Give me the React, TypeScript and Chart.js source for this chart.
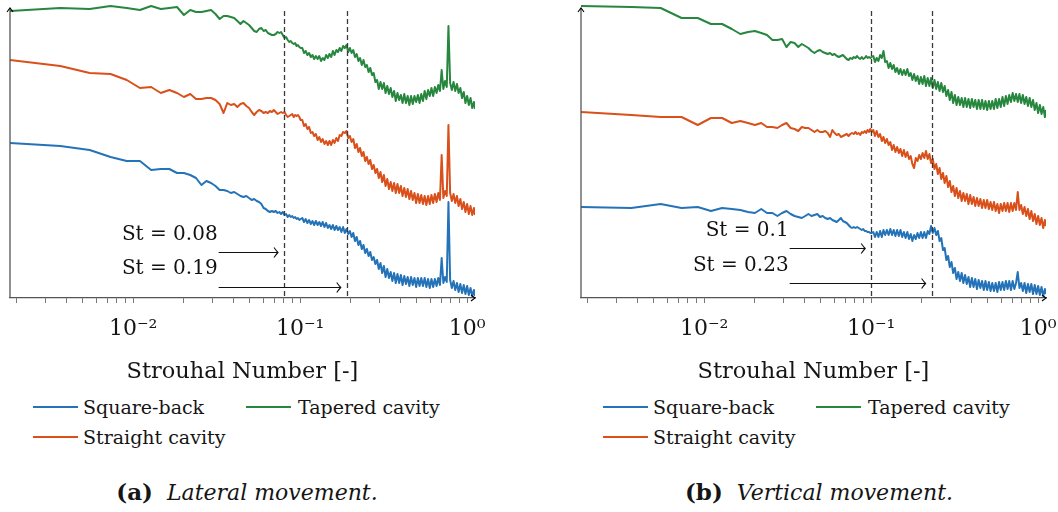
import React, { useEffect, useRef } from 'react';
import { Chart, registerables } from 'chart.js';

Chart.register(...registerables);

const FONT = "'DejaVu Serif', serif";

// Strouhal number (frequency) grid shared by all spectra
const strouhal = [
  0.00183, 0.00366, 0.00549, 0.00732, 0.00915, 0.01098, 0.01281, 0.01464, 0.01647, 0.0183,
  0.02013, 0.02196, 0.02379, 0.02562, 0.02745, 0.02928, 0.03111, 0.03294, 0.03477, 0.0366,
  0.03843, 0.04026, 0.04209, 0.04392, 0.04575, 0.04758, 0.04941, 0.05124, 0.05307, 0.0549,
  0.05673, 0.05856, 0.06039, 0.06222, 0.06405, 0.06588, 0.06771, 0.06954, 0.07137, 0.0732,
  0.07503, 0.07686, 0.07869, 0.08052, 0.08235, 0.08418, 0.08601, 0.08784, 0.08967, 0.0915,
  0.09333, 0.09516, 0.09699, 0.09882, 0.10065,
  0.103, 0.1054, 0.1079, 0.1105, 0.1131, 0.1158, 0.1185, 0.1213, 0.1242, 0.1272,
  0.1302, 0.1333, 0.1364, 0.1397, 0.143, 0.1464, 0.1498, 0.1534, 0.157, 0.1607,
  0.1646, 0.1685, 0.1725, 0.1765, 0.1807, 0.185, 0.1894, 0.1939, 0.1985, 0.2032,
  0.208, 0.2129, 0.218, 0.2232, 0.2284, 0.2339, 0.2394, 0.2451, 0.2509, 0.2568,
  0.2629, 0.2692, 0.2755, 0.2821, 0.2888, 0.2956, 0.3026, 0.3098, 0.3171, 0.3246,
  0.3323, 0.3402, 0.3483, 0.3565, 0.365, 0.3736, 0.3825, 0.3916, 0.4008, 0.4103,
  0.4201, 0.43, 0.4402, 0.4507, 0.4613, 0.4723, 0.4835, 0.4949, 0.5067, 0.5187,
  0.531, 0.5436, 0.5565, 0.5697, 0.5832, 0.597, 0.6112, 0.6257, 0.6405, 0.6557,
  0.6712, 0.6871, 0.7034, 0.7201, 0.7371, 0.7546, 0.7725, 0.7908, 0.8095, 0.8287,
  0.8484, 0.8685, 0.889, 0.9101, 0.9317, 0.9538, 0.9764, 0.9995, 1.0232, 1.0474,
  1.0722, 1.0976, 1.114,
];

// (a) Lateral movement — PSD (arbitrary dB-offset units)
const lateralSquareBack = [
  155, 152, 148, 141, 137, 137, 128, 129, 129, 125, 125, 123, 120, 113, 117, 115, 112, 108, 108, 107,
  105, 106, 104, 102, 101, 102, 100, 98, 99, 97, 96, 94, 90, 89, 87, 86, 87, 86, 87, 85,
  86, 84, 86, 83, 84, 81, 83, 81, 82, 80, 81, 79, 80, 78, 79,
  80, 76, 79, 75, 78, 74, 77, 73, 77, 73, 76, 72, 76, 71, 75, 70, 73, 69, 73, 68,
  72, 68, 71, 66, 71, 65, 69, 64, 67, 61, 65, 57, 61, 53, 57, 49, 53, 45, 49, 42,
  46, 38, 41, 34, 38, 29, 35, 25, 32, 21, 29, 20, 26, 17, 25, 15, 24, 15, 23, 13,
  22, 14, 21, 12, 21, 13, 20, 11, 20, 12, 20, 12, 20, 11, 19, 10, 19, 11, 19, 12,
  20, 13, 40, 15, 21, 16, 96, 18, 10, 17, 8, 15, 6, 14, 5, 13, 4, 12, 3, 10,
  2, 8, 2,
];
const lateralStraight = [
  238, 232, 225, 224, 218, 210, 211, 205, 208, 205, 201, 204, 199, 199, 200, 200, 198, 194, 185, 195,
  193, 194, 191, 194, 195, 192, 190, 186, 183, 186, 188, 187, 185, 186, 185, 187, 186, 188, 186, 184,
  185, 186, 185, 186, 183, 181, 182, 183, 184, 181, 183, 182, 183, 181, 178,
  178, 172, 174, 169, 171, 165, 166, 162, 164, 158, 161, 156, 159, 154, 157, 153, 157, 153, 158, 155,
  160, 157, 163, 162, 166, 165, 167, 160, 162, 156, 159, 150, 154, 146, 150, 142, 146, 137, 141, 134,
  138, 129, 133, 125, 129, 120, 126, 116, 123, 112, 119, 109, 116, 107, 115, 105, 114, 105, 112, 102,
  110, 101, 109, 99, 107, 98, 105, 95, 104, 95, 103, 94, 102, 93, 102, 94, 103, 95, 104, 96,
  105, 98, 143, 100, 107, 102, 173, 105, 97, 104, 95, 102, 92, 99, 89, 96, 86, 94, 84, 92,
  83, 90, 83,
];
const lateralTapered = [
  287, 290, 289, 292, 290, 288, 292, 289, 290, 291, 283, 288, 286, 286, 287, 288, 284, 279, 282, 282,
  281, 280, 277, 274, 277, 275, 273, 270, 267, 266, 269, 270, 267, 268, 265, 264, 263, 263, 264, 266,
  265, 266, 263, 260, 261, 258, 256, 257, 255, 254, 255, 252, 253, 251, 250,
  250, 245, 247, 243, 245, 241, 243, 239, 242, 239, 242, 237, 240, 238, 243, 240, 244, 241, 247, 243,
  248, 246, 250, 247, 252, 250, 253, 246, 250, 245, 248, 241, 244, 237, 240, 233, 238, 231, 233, 226,
  230, 223, 225, 216, 218, 209, 216, 209, 215, 205, 212, 204, 210, 201, 207, 197, 205, 198, 203, 195,
  204, 195, 202, 193, 202, 194, 202, 196, 203, 195, 204, 197, 207, 199, 208, 202, 210, 202, 211, 205,
  213, 207, 228, 209, 217, 211, 272, 215, 208, 216, 207, 214, 205, 210, 200, 206, 195, 202, 193, 200,
  190, 196, 189,
];

// (b) Vertical movement
const verticalSquareBack = [
  91, 90, 94, 90, 91, 87, 90, 89, 88, 86, 85, 89, 85, 85, 82, 85, 87, 84, 82, 81,
  80, 82, 84, 82, 83, 84, 81, 82, 80, 79, 80, 78, 77, 76, 78, 80, 77, 76, 75, 73,
  71, 70, 71, 70, 71, 70, 69, 68, 69, 67, 67, 66, 66, 65, 65,
  66, 61, 66, 61, 67, 61, 68, 63, 68, 63, 69, 63, 68, 62, 68, 62, 68, 61, 66, 60,
  66, 59, 64, 57, 63, 59, 65, 60, 66, 60, 66, 60, 67, 64, 72, 65, 70, 63, 67, 57,
  60, 48, 50, 38, 42, 31, 36, 25, 30, 19, 26, 17, 25, 15, 23, 14, 21, 11, 20, 11,
  19, 9, 18, 10, 17, 8, 17, 8, 16, 7, 15, 7, 15, 6, 16, 8, 16, 8, 17, 9,
  17, 8, 17, 9, 15, 26, 10, 15, 7, 15, 5, 14, 6, 14, 4, 13, 4, 12, 3, 11,
  2, 9, 4,
];
const verticalStraight = [
  186, 183, 181, 181, 173, 180, 180, 175, 177, 175, 173, 175, 171, 171, 170, 173, 175, 170, 169, 167,
  171, 170, 170, 168, 166, 168, 166, 166, 167, 165, 161, 168, 165, 163, 164, 161, 162, 163, 164, 162,
  164, 165, 164, 166, 164, 165, 163, 166, 165, 167, 165, 168, 166, 169, 166,
  168, 162, 167, 161, 164, 157, 161, 155, 159, 153, 156, 148, 153, 146, 151, 145, 149, 142, 148, 141,
  146, 139, 142, 134, 130, 140, 137, 143, 139, 145, 140, 147, 139, 144, 135, 139, 129, 134, 124, 130,
  119, 125, 115, 122, 111, 117, 106, 112, 102, 110, 100, 107, 97, 105, 97, 104, 94, 103, 94, 101,
  92, 100, 92, 99, 90, 98, 90, 98, 89, 96, 88, 96, 87, 94, 85, 94, 87, 95, 87, 95,
  86, 95, 87, 95, 88, 106, 88, 93, 84, 91, 82, 89, 79, 87, 77, 84, 74, 82, 73, 80,
  70, 78, 72,
];
const verticalTapered = [
  292, 291, 290, 280, 280, 274, 274, 269, 264, 266, 267, 265, 263, 258, 258, 259, 251, 256, 255, 251,
  254, 252, 250, 247, 245, 247, 248, 246, 245, 244, 245, 243, 244, 242, 241, 242, 243, 241, 239, 238,
  240, 239, 241, 240, 242, 240, 239, 241, 239, 240, 242, 240, 241, 240, 241,
  242, 236, 240, 237, 243, 240, 247, 236, 237, 230, 235, 229, 233, 226, 230, 224, 229, 223, 228, 223,
  229, 222, 225, 218, 224, 217, 222, 214, 221, 214, 222, 212, 220, 212, 220, 210, 218, 209, 216, 207,
  215, 206, 212, 202, 208, 198, 206, 195, 203, 193, 201, 193, 200, 191, 200, 191, 199, 190, 199, 191,
  198, 189, 198, 189, 198, 189, 197, 188, 197, 189, 197, 189, 199, 190, 199, 191, 201, 192, 202, 194,
  203, 196, 205, 197, 204, 196, 204, 195, 203, 194, 201, 192, 200, 191, 198, 188, 195, 185, 193, 184,
  191, 181, 188,
];

const seriesNames = ['Square-back', 'Straight cavity', 'Tapered cavity'];
const seriesColors = ['#2473b9', '#d9501a', '#27873f'];

const tickValues = [
  0.002, 0.003, 0.004, 0.005, 0.006, 0.007, 0.008, 0.009,
  0.01, 0.02, 0.03, 0.04, 0.05, 0.06, 0.07, 0.08, 0.09,
  0.1, 0.2, 0.3, 0.4, 0.5, 0.6, 0.7, 0.8, 0.9, 1,
];
const tickLabels: Record<string, string> = { '0.01': '10⁻²', '0.1': '10⁻¹', '1': '10⁰' };

const lateralPeaks = [0.08, 0.19];
const verticalPeaks = [0.1, 0.23];
const annotationStart = 0.0325;

const X_MIN = 0.00183;
const X_MAX = 1.114;

const decorPlugin = {
  id: 'decor',
  afterDatasetsDraw(chart: any, _args: any, opts: any) {
    const { ctx, chartArea: a, scales } = chart;
    const x = scales.x;
    const y = scales.y;
    ctx.save();
    // y axis line
    ctx.strokeStyle = '#555';
    ctx.lineWidth = 1.3;
    ctx.beginPath();
    ctx.moveTo(a.left, a.bottom);
    ctx.lineTo(a.left, a.top + 6);
    ctx.stroke();
    // arrowheads of axes
    ctx.strokeStyle = '#000';
    ctx.lineWidth = 1.1;
    ctx.beginPath();
    ctx.moveTo(a.left - 3, a.top + 9);
    ctx.lineTo(a.left, a.top + 5);
    ctx.lineTo(a.left + 3, a.top + 9);
    ctx.stroke();
    ctx.beginPath();
    ctx.moveTo(a.right - 4, a.bottom - 3);
    ctx.lineTo(a.right, a.bottom);
    ctx.lineTo(a.right - 4, a.bottom + 3);
    ctx.stroke();
    // dashed markers
    ctx.strokeStyle = '#3a3a3a';
    ctx.lineWidth = 1.3;
    ctx.setLineDash([5, 3]);
    opts.peaks.forEach((p: number) => {
      const px = Math.round(x.getPixelForValue(p)) + 0.5;
      ctx.beginPath();
      ctx.moveTo(px, a.top + 8);
      ctx.lineTo(px, a.bottom);
      ctx.stroke();
    });
    ctx.setLineDash([]);
    // annotations
    ctx.strokeStyle = '#111';
    ctx.fillStyle = '#111';
    ctx.lineWidth = 1.1;
    ctx.font = `20px ${FONT}`;
    ctx.textAlign = 'right';
    ctx.textBaseline = 'middle';
    opts.peaks.forEach((p: number, i: number) => {
      const x0 = x.getPixelForValue(opts.start);
      const x1 = x.getPixelForValue(p) - 6;
      const ya = Math.round(y.getPixelForValue(opts.arrowLevels[i])) + 0.5;
      ctx.beginPath();
      ctx.moveTo(x0, ya);
      ctx.lineTo(x1, ya);
      ctx.stroke();
      ctx.beginPath();
      ctx.moveTo(x1 - 4, ya - 5);
      ctx.quadraticCurveTo(x1 - 1.5, ya - 1.5, x1, ya);
      ctx.quadraticCurveTo(x1 - 1.5, ya + 1.5, x1 - 4, ya + 5);
      ctx.stroke();
      ctx.fillText(`St = ${p}`, x0 - 1, y.getPixelForValue(opts.textLevels[i]));
    });
    ctx.restore();
  },
};

type PanelProps = {
  left: number;
  series: number[][];
  peaks: number[];
  arrowLevels: number[];
  textLevels: number[];
};

function Panel({ left, series, peaks, arrowLevels, textLevels }: PanelProps) {
  const ref = useRef<HTMLCanvasElement | null>(null);
  useEffect(() => {
    if (!ref.current) return;
    const datasets = series.map((s, i) => ({
      label: seriesNames[i],
      data: strouhal.map((st, j) => ({ x: st, y: s[j] })),
      borderColor: seriesColors[i],
      backgroundColor: seriesColors[i],
      borderWidth: 2,
      pointRadius: 0,
      fill: false,
      tension: 0,
      borderJoinStyle: 'round' as const,
    }));
    const chart = new Chart(ref.current, {
      type: 'line',
      data: { datasets },
      options: {
        responsive: false,
        animation: false,
        events: [],
        layout: { padding: { left: 10, right: 55, top: 3, bottom: 2 } },
        plugins: {
          legend: { display: false },
          tooltip: { enabled: false },
          decor: { peaks, arrowLevels, textLevels, start: annotationStart },
        } as any,
        scales: {
          x: {
            type: 'logarithmic',
            min: X_MIN,
            max: X_MAX,
            afterBuildTicks: (scale: any) => {
              scale.ticks = tickValues.map((v) => ({ value: v }));
            },
            afterFit: (scale: any) => {
              scale.height = 90;
            },
            ticks: {
              autoSkip: false,
              maxRotation: 0,
              minRotation: 0,
              padding: 13,
              color: '#151515',
              font: { family: FONT, size: 22 },
              callback: (v: any) => tickLabels[String(v)] ?? '',
            },
            grid: {
              display: true,
              drawOnChartArea: false,
              drawTicks: true,
              tickLength: 5,
              color: '#777',
              lineWidth: 1,
            },
            border: { display: true, color: '#555', width: 1.3 },
            title: {
              display: true,
              text: 'Strouhal Number [-]',
              color: '#151515',
              font: { family: FONT, size: 22.5 },
              padding: { top: 0, bottom: 2.5 },
            },
          },
          y: {
            type: 'linear',
            display: false,
            min: 0,
            max: 295,
          },
        },
      },
      plugins: [decorPlugin],
    });
    return () => chart.destroy();
  }, []);
  return (
    <canvas
      ref={ref}
      width={530}
      height={390}
      style={{ position: 'absolute', left, top: 0, width: 530, height: 390 }}
    />
  );
}

function LegendItem({ x, y, color, label, textX }: { x: number; y: number; color: string; label: string; textX: number }) {
  return (
    <>
      <div style={{ position: 'absolute', left: x, top: y - 1, width: 45, height: 2, background: color }} />
      <div
        style={{
          position: 'absolute',
          left: textX,
          top: y - 12,
          height: 24,
          lineHeight: '24px',
          fontSize: 19,
          color: '#151515',
          whiteSpace: 'nowrap',
        }}
      >
        {label}
      </div>
    </>
  );
}

function Legend({ offset }: { offset: number }) {
  return (
    <>
      <LegendItem x={33 + offset} y={407} color={seriesColors[0]} label={seriesNames[0]} textX={83 + offset} />
      <LegendItem x={246 + offset} y={407} color={seriesColors[2]} label={seriesNames[2]} textX={298 + offset} />
      <LegendItem x={33 + offset} y={437} color={seriesColors[1]} label={seriesNames[1]} textX={83 + offset} />
    </>
  );
}

function Caption({ center, tag, text }: { center: number; tag: string; text: string }) {
  return (
    <div
      style={{
        position: 'absolute',
        left: center - 250,
        width: 500,
        top: 478,
        height: 28,
        lineHeight: '28px',
        textAlign: 'center',
        fontSize: 22,
        color: '#151515',
        whiteSpace: 'nowrap',
      }}
    >
      <b style={{ fontSize: 23 }}>{tag}</b>
      <i style={{ marginLeft: 14 }}>{text}</i>
    </div>
  );
}

export default function App() {
  return (
    <div
      style={{
        position: 'absolute',
        left: 0,
        top: 0,
        width: 1058,
        height: 512,
        overflow: 'hidden',
        background: '#fff',
        fontFamily: FONT,
      }}
    >
      <Panel
        left={0}
        series={[lateralSquareBack, lateralStraight, lateralTapered]}
        peaks={lateralPeaks}
        arrowLevels={[46, 11]}
        textLevels={[63, 29]}
      />
      <Panel
        left={571}
        series={[verticalSquareBack, verticalStraight, verticalTapered]}
        peaks={verticalPeaks}
        arrowLevels={[50, 15]}
        textLevels={[67, 32]}
      />
      <Legend offset={0} />
      <Legend offset={570} />
      <Caption center={247} tag="(a)" text="Lateral movement." />
      <Caption center={819} tag="(b)" text="Vertical movement." />
    </div>
  );
}
